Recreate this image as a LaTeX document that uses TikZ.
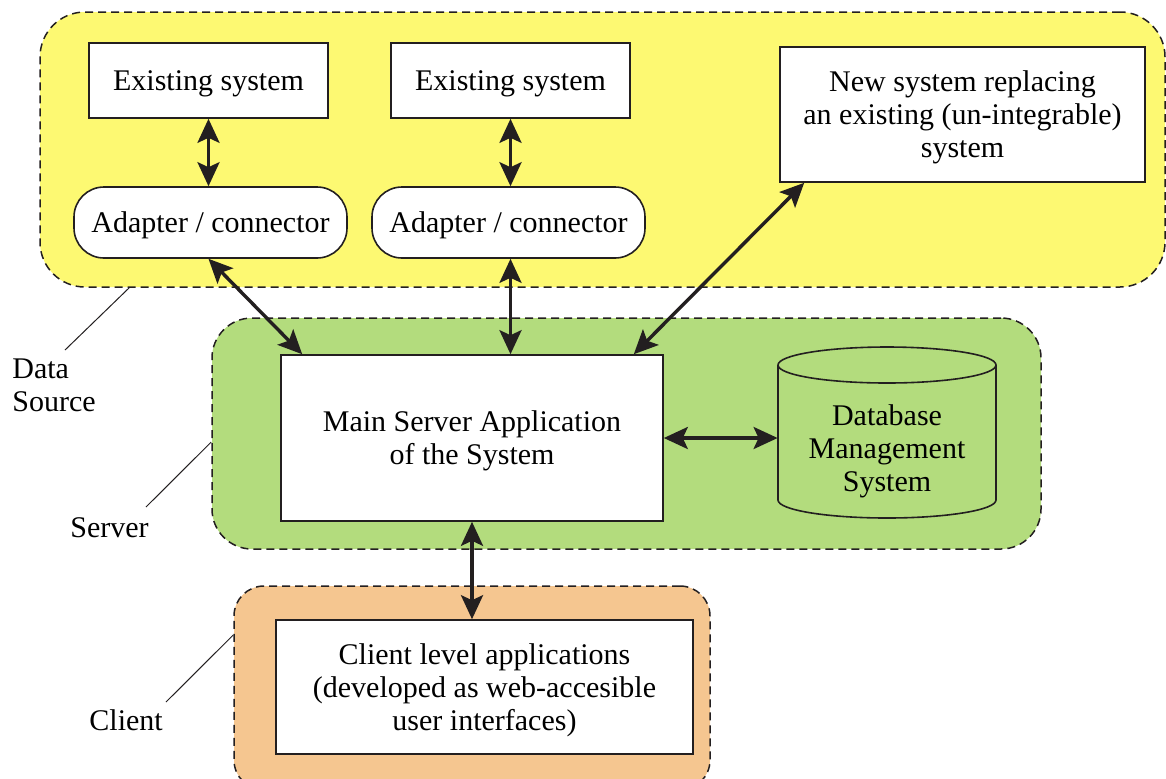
\documentclass[tikz,border=0pt]{standalone}
\usepackage{fontspec}
\setmainfont{Liberation Serif}
\usetikzlibrary{arrows.meta,calc}
\definecolor{yel}{HTML}{FDF972}
\definecolor{grn}{HTML}{B3DC7D}
\definecolor{org}{HTML}{F5C690}
\definecolor{ink}{HTML}{231F20}
\begin{document}
\begin{tikzpicture}[x=0.5pt,y=-0.5pt,
  font=\fontsize{15}{16.5}\selectfont,
  region/.style={draw=ink, line width=0.75pt, dash pattern=on 4pt off 2.5pt, inner sep=0pt},
  box/.style={draw=ink, fill=white, line width=0.8pt, align=center, inner sep=0pt, text depth=-1pt},
  adapter/.style={box, rounded corners=15pt, text depth=0pt},
  lowtext/.style={text depth=-2.5pt},
  conn/.style={draw=ink, line width=1.7pt,
    {Stealth[length=12pt,width=11pt,inset=2.5pt]}-{Stealth[length=12pt,width=11pt,inset=2.5pt]}},
  callout/.style={draw=ink, line width=0.5pt},
  lbl/.style={align=left, inner sep=0pt}]
\useasboundingbox (0,0) rectangle (1166,778);
\clip (0,0) rectangle (1166,778);

% regions
\node[region, fill=yel, rounded corners=22.5pt, minimum width=562.5pt, minimum height=137.5pt] (ds) at (602.5,149.5) {};
\node[region, fill=grn, rounded corners=20pt, minimum width=414.5pt, minimum height=115.5pt] (srv) at (626.5,433.5) {};
\node[region, fill=org, rounded corners=15pt, minimum width=238pt, minimum height=102pt] (cli) at (472,688) {};

% data source boxes
\node[box, minimum width=119.5pt, minimum height=37.5pt] (es1) at (208.5,80.5) {Existing system};
\node[box, minimum width=119.5pt, minimum height=37.5pt] (es2) at (510.5,80.5) {Existing system};
\node[adapter, minimum width=136.5pt, minimum height=35.5pt] (ad1) at (210.5,222.5) {Adapter / connector};
\node[adapter, minimum width=136.5pt, minimum height=35.5pt] (ad2) at (508.5,222.5) {Adapter / connector};
\node[box, minimum width=182.5pt, minimum height=67.5pt] (new) at (962.5,114.5) {New system replacing\\an existing (un-integrable)\\system};

% server
\node[box, lowtext, minimum width=191pt, minimum height=83pt] (main) at (472,438) {Main Server Application\\of the System};
\draw[ink, line width=0.8pt, fill=grn] (778,365) -- (778,500) arc[start angle=180, end angle=0, x radius=109, y radius=18] -- (996,365) arc[start angle=0, end angle=-180, x radius=109, y radius=18] -- cycle;
\draw[ink, line width=0.8pt] (778,365) arc[start angle=180, end angle=0, x radius=109, y radius=18];
\node[inner sep=0pt, minimum width=109pt, minimum height=85.5pt] (db) at (887,432.5) {};
\node[align=center, inner sep=0pt] (dbt) at (887,451) {Database\\Management\\System};

% client
\node[box, lowtext, minimum width=208.5pt, minimum height=67pt] (client) at (484.5,687) {Client level applications\\(developed as web-accesible\\user interfaces)};

% connectors
\coordinate (a1) at ($(ad1.south)+(-2,0)$);
\coordinate (a2) at ($(ad2.south)+(2,0)$);
\coordinate (m1) at ($(main.north west)+(22,0)$);
\coordinate (m3) at ($(main.north east)+(-30,0)$);
\coordinate (n1) at ($(new.south west)+(25,0)$);
\draw[conn] (es1.south) -- (es1.south |- ad1.north);
\draw[conn] (es2.south) -- (es2.south |- ad2.north);
\draw[conn] (a1) -- (m1);
\draw[conn] (a2) -- (a2 |- main.north);
\draw[conn] (n1) -- (m3);
\draw[conn] (main.east) -- (main.east -| db.west);
\draw[conn] (main.south) -- (main.south |- client.north);

% labels and callouts
\node[lbl, anchor=north west] (dsl) at (12,358) {Data\\Source};
\node[lbl, anchor=base west] (srvl) at (70,537) {Server};
\node[lbl, anchor=base west] (clil) at (89,730) {Client};
\coordinate (dsc) at (65,350);
\coordinate (srvc) at (146,507);
\coordinate (clic) at (166,702);
\coordinate (dss) at ($(ds.south west)+(90,0)$);
\coordinate (srvs) at ($(srv.west)+(0,8.5)$);
\coordinate (clis) at ($(cli.west)+(0,-53)$);
\draw[callout] (dss) -- (dsc);
\draw[callout] (srvs) -- (srvc);
\draw[callout] (clis) -- (clic);
\end{tikzpicture}
\end{document}
